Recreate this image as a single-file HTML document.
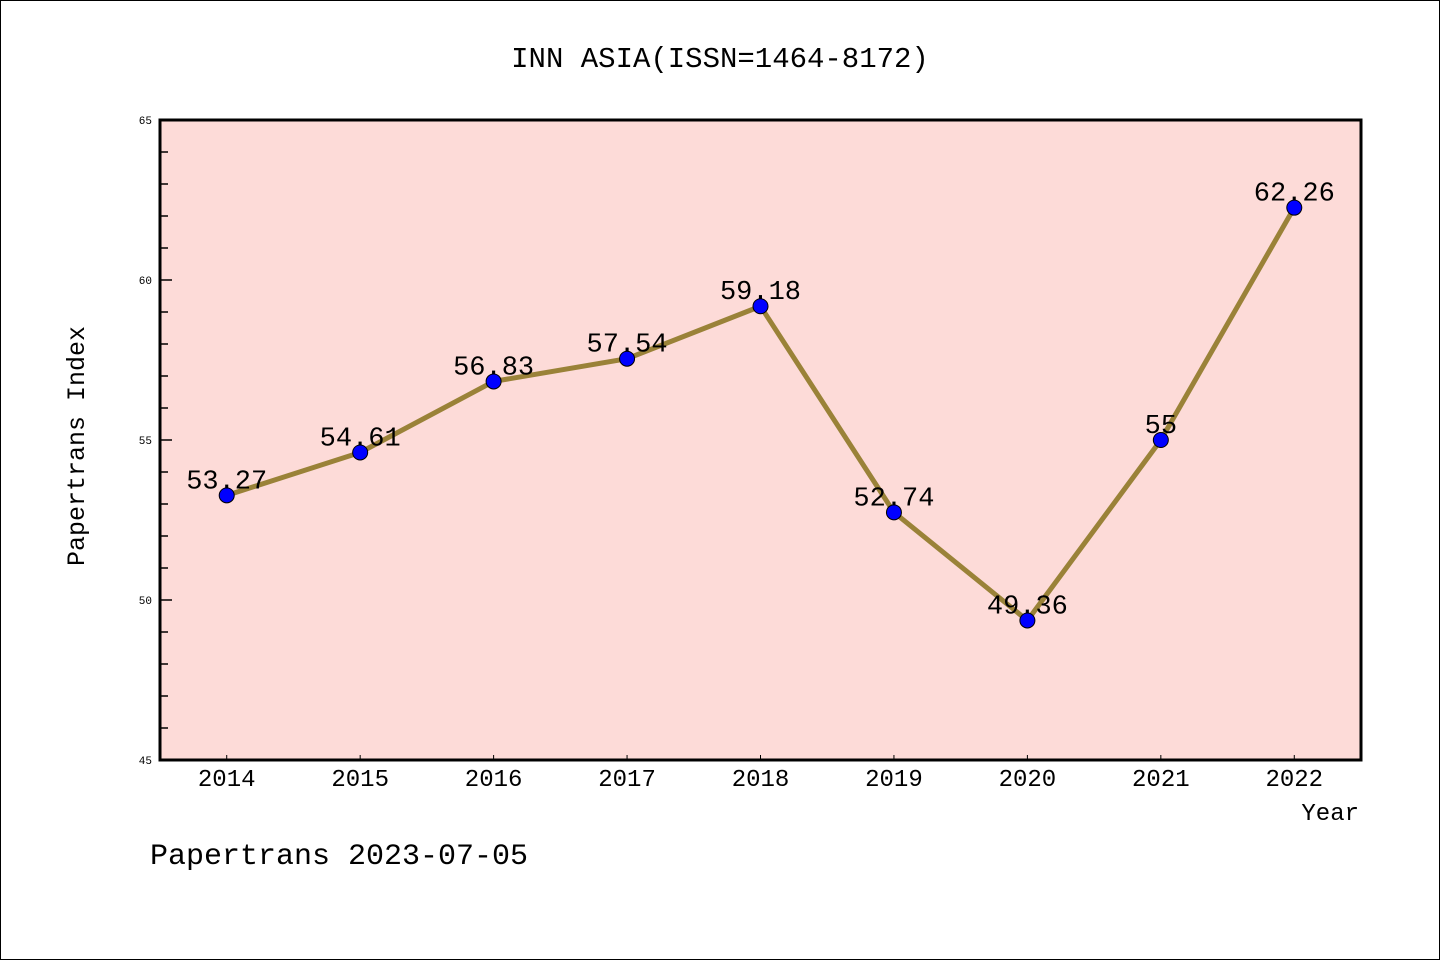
<!DOCTYPE html>
<html><head><meta charset="utf-8"><style>
body{margin:0;background:#fff}
svg{display:block;font-family:"Liberation Mono",monospace}
</style></head><body>
<svg id="chart" width="1440" height="960">
<rect x="0.5" y="0.5" width="1439" height="959" fill="#fff" stroke="#000"/>
<text x="720" y="67" font-size="29" text-anchor="middle">INN ASIA(ISSN=1464-8172)</text>
<rect x="160" y="120" width="1201" height="640" fill="#fddbd8"/>
<g id="axes"></g>
<g id="series"></g>
<rect x="160" y="120" width="1201" height="640" fill="none" stroke="#000" stroke-width="3"/>
<text transform="translate(84,446) rotate(-90)" font-size="25" text-anchor="middle">Papertrans Index</text>
<text x="1359" y="820" font-size="24" text-anchor="end">Year</text>
<text x="150" y="864" font-size="30">Papertrans 2023-07-05</text>
</svg>
<script>
const categories=["2014","2015","2016","2017","2018","2019","2020","2021","2022"];
const values=[53.27,54.61,56.83,57.54,59.18,52.74,49.36,55,62.26];
const labels=["53.27","54.61","56.83","57.54","59.18","52.74","49.36","55","62.26"];
const yTicks=[45,50,55,60,65];
const NS="http://www.w3.org/2000/svg";
const L=160,R=1361,T=120,B=760,yMin=45,yMax=65;
const step=(R-L)/categories.length;
const xs=i=>L+step*(i+0.5);
const ys=v=>B-(v-yMin)/(yMax-yMin)*(B-T);
function mk(tag,attrs,parent){const e=document.createElementNS(NS,tag);for(const k in attrs)e.setAttribute(k,attrs[k]);parent.appendChild(e);return e;}
const ax=document.getElementById('axes'),se=document.getElementById('series');
for(let v=yMin+1;v<yMax;v++){
  const major=yTicks.includes(v);
  const t=mk('line',{x1:L,x2:L+(major?12:8),y1:ys(v),y2:ys(v),stroke:'#000','stroke-width':1.5},ax);
  
  
}
yTicks.forEach(v=>{
  const t=mk('text',{x:L-8,y:ys(v)+4,'font-size':11,'text-anchor':'end'},ax);
  t.textContent=v;
  
  
});
categories.forEach((c,i)=>{
  const tk=mk('line',{x1:xs(i),x2:xs(i),y1:B,y2:B-5,stroke:'#000','stroke-width':1},ax);
  
  
  const t=mk('text',{x:xs(i),y:B+26,'font-size':24,'text-anchor':'middle'},ax);
  t.textContent=c;
  
  
});
const line=mk('polyline',{points:values.map((v,i)=>xs(i)+','+ys(v)).join(' '),fill:'none',stroke:'#9a8238','stroke-width':5},se);


values.forEach((v,i)=>{
  const c=mk('circle',{cx:xs(i),cy:ys(v),r:7.5,fill:'#0000ff',stroke:'#000','stroke-width':1},se);
  
  
  const t=mk('text',{x:xs(i),y:ys(v)-7,'font-size':27,'text-anchor':'middle'},se);
  t.textContent=labels[i];
  
  
});
</script>
</body></html>
